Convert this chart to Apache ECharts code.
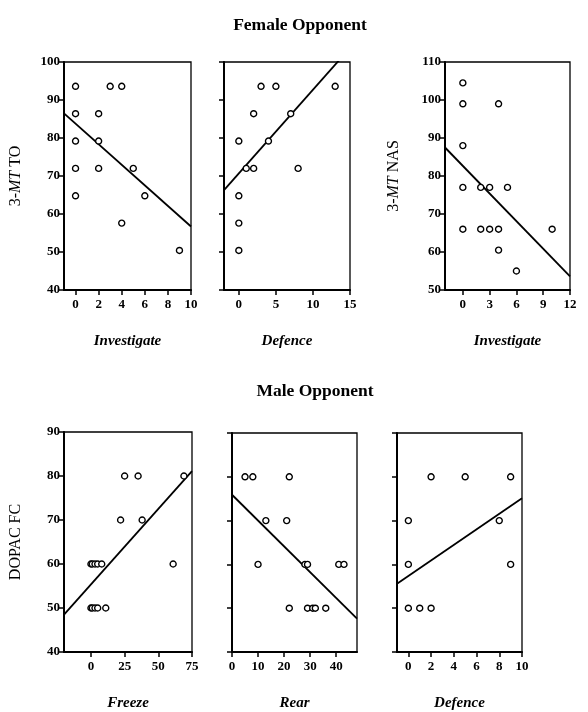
<!DOCTYPE html>
<html>
<head>
<meta charset="utf-8">
<script src="https://cdn.jsdelivr.net/npm/echarts@6/dist/echarts.min.js"></script>
<style>
  html, body { margin: 0; padding: 0; background: #fff; }
  #chart { width: 588px; height: 712px; }
</style>
</head>
<body>
<div id="chart"></div>
<script>
// Female opponent panels
const invFX = [0, 0, 0, 0, 0, 2, 2, 2, 3, 4, 4, 5, 6, 9];
const mtToInvY = [93.6, 86.4, 79.2, 72, 64.8, 86.4, 79.2, 72, 93.6, 93.6, 57.6, 72, 64.8, 50.4];
const fitToInv = [[-1, 86.5], [10, 56.7]];

const defFX = [0, 0, 0, 0, 1, 2, 2, 3, 4, 5, 7, 8, 13];
const mtToDefY = [79.2, 64.8, 57.6, 50.4, 72, 72, 86.4, 93.6, 79.2, 93.6, 86.4, 72, 93.6];
const fitToDef = [[-2, 66.3], [15, 103.7]];

const invNasX = [0, 0, 0, 0, 0, 2, 3, 5, 4, 2, 3, 4, 4, 6, 10];
const mtNasY = [104.5, 99, 88, 77, 66, 77, 77, 77, 99, 66, 66, 66, 60.5, 55, 66];
const fitNas = [[-2, 87.5], [12, 53.6]];

// Male opponent panels
const freezeX = [25, 35, 69, 22, 38, 0, 1, 3, 5, 8, 61, 0, 1, 3, 5, 11];
const dopacFrzY = [80, 80, 80, 70, 70, 60, 60, 60, 60, 60, 60, 50, 50, 50, 50, 50];
const fitFreeze = [[-20, 48.5], [75, 81.1]];

const rearX = [5, 8, 22, 13, 21, 10, 28, 29, 41, 43, 22, 29, 31, 32, 36];
const dopacRearY = [80, 80, 80, 70, 70, 60, 60, 60, 60, 60, 50, 50, 50, 50, 50];
const fitRear = [[0, 75.9], [48, 47.6]];

const defMX = [2, 5, 9, 0, 8, 0, 9, 0, 1, 2];
const dopacDefY = [80, 80, 80, 70, 70, 60, 60, 50, 50, 50];
const fitDefM = [[-1, 55.6], [10, 75.1]];

// axis tick labels
const xTicks = [
  [0, 2, 4, 6, 8, 10],
  [0, 5, 10, 15],
  [0, 3, 6, 9, 12],
  [0, 25, 50, 75],
  [0, 10, 20, 30, 40],
  [0, 2, 4, 6, 8, 10]
];
const xRanges = [[-1, 10], [-2, 15], [-2, 12], [-20, 75], [0, 48], [-1, 10]];
const yRanges = [[40, 100], [40, 100], [50, 110], [40, 90], [40, 90], [40, 90]];
const xNames = ['Investigate', 'Defence', 'Investigate', 'Freeze', 'Rear', 'Defence'];
const titles = ['Female Opponent', 'Male Opponent'];

const SERIF = "'Liberation Serif', 'DejaVu Serif', serif";

const panels = [
  { xs: invFX, ys: mtToInvY, fit: fitToInv, yName: ['3-', 'MT', ' TO'], yLabels: true },
  { xs: defFX, ys: mtToDefY, fit: fitToDef, yName: null, yLabels: false },
  { xs: invNasX, ys: mtNasY, fit: fitNas, yName: ['3-', 'MT', ' NAS'], yLabels: true },
  { xs: freezeX, ys: dopacFrzY, fit: fitFreeze, yName: ['', '', 'DOPAC FC'], yLabels: true },
  { xs: rearX, ys: dopacRearY, fit: fitRear, yName: null, yLabels: false },
  { xs: defMX, ys: dopacDefY, fit: fitDefM, yName: null, yLabels: false }
];

const grids = [
  { left: 64, top: 62, width: 127, height: 228 },
  { left: 224, top: 62, width: 126, height: 228 },
  { left: 445, top: 62, width: 125, height: 228 },
  { left: 64, top: 432, width: 128, height: 226 },
  { left: 232, top: 433, width: 125, height: 225 },
  { left: 397, top: 433, width: 125, height: 225 }
].map(g => Object.assign({ show: true, borderColor: '#000', borderWidth: 1.3, backgroundColor: 'transparent' }, g));

const yNameGaps = [40, 0, 43, 40, 0, 0];

const axisLineStyle = { show: true, onZero: false, lineStyle: { color: '#000', width: 2 } };
const tickStyle = { show: true, inside: false, length: 5, lineStyle: { color: '#000', width: 1.5 } };
const labelStyle = { color: '#000', fontFamily: SERIF, fontWeight: 'bold', fontSize: 13 };

const xAxes = panels.map((p, i) => ({
  type: 'value', gridIndex: i,
  min: xRanges[i][0], max: xRanges[i][1],
  axisLine: axisLineStyle,
  axisTick: Object.assign({ customValues: xTicks[i] }, tickStyle),
  axisLabel: Object.assign({ customValues: xTicks[i], margin: 8 }, labelStyle),
  splitLine: { show: false },
  name: xNames[i], nameLocation: 'middle', nameGap: 44,
  nameTextStyle: { color: '#000', fontFamily: SERIF, fontWeight: 'bold', fontStyle: 'italic', fontSize: 15 }
}));

const yAxes = panels.map((p, i) => {
  const ax = {
    type: 'value', gridIndex: i,
    min: yRanges[i][0], max: yRanges[i][1], interval: 10,
    axisLine: axisLineStyle,
    axisTick: tickStyle,
    axisLabel: Object.assign({ show: p.yLabels, margin: 4 }, labelStyle),
    splitLine: { show: false }
  };
  if (p.yName) {
    ax.name = `{n|${p.yName[0]}}{i|${p.yName[1]}}{n|${p.yName[2]}}`;
    ax.nameLocation = 'middle';
    ax.nameGap = yNameGaps[i];
    ax.nameTextStyle = {
      color: '#000', fontFamily: SERIF, fontSize: 16,
      rich: {
        n: { color: '#000', fontFamily: SERIF, fontSize: 16 },
        i: { color: '#000', fontFamily: SERIF, fontSize: 16, fontStyle: 'italic' }
      }
    };
  }
  return ax;
});

const series = [];
panels.forEach((p, i) => {
  series.push({
    type: 'scatter', xAxisIndex: i, yAxisIndex: i,
    symbol: 'circle', symbolSize: 6,
    itemStyle: { color: '#fff', borderColor: '#000', borderWidth: 1.4, opacity: 1 },
    data: p.xs.map((x, k) => [x, p.ys[k]]),
    z: 3
  });
  series.push({
    type: 'line', xAxisIndex: i, yAxisIndex: i,
    symbol: 'none', clip: true,
    lineStyle: { color: '#000', width: 1.8 },
    data: p.fit,
    z: 2
  });
});

const chart = echarts.init(document.getElementById('chart'), null, { renderer: 'canvas' });
chart.setOption({
  animation: false,
  backgroundColor: '#fff',
  title: [
    { text: titles[0], left: 295, top: 11, textAlign: 'center',
      textStyle: { color: '#000', fontFamily: SERIF, fontWeight: 'bold', fontSize: 17.5 } },
    { text: titles[1], left: 310, top: 377, textAlign: 'center',
      textStyle: { color: '#000', fontFamily: SERIF, fontWeight: 'bold', fontSize: 17.5 } }
  ],
  grid: grids,
  xAxis: xAxes,
  yAxis: yAxes,
  series: series
});
</script>
</body>
</html>
